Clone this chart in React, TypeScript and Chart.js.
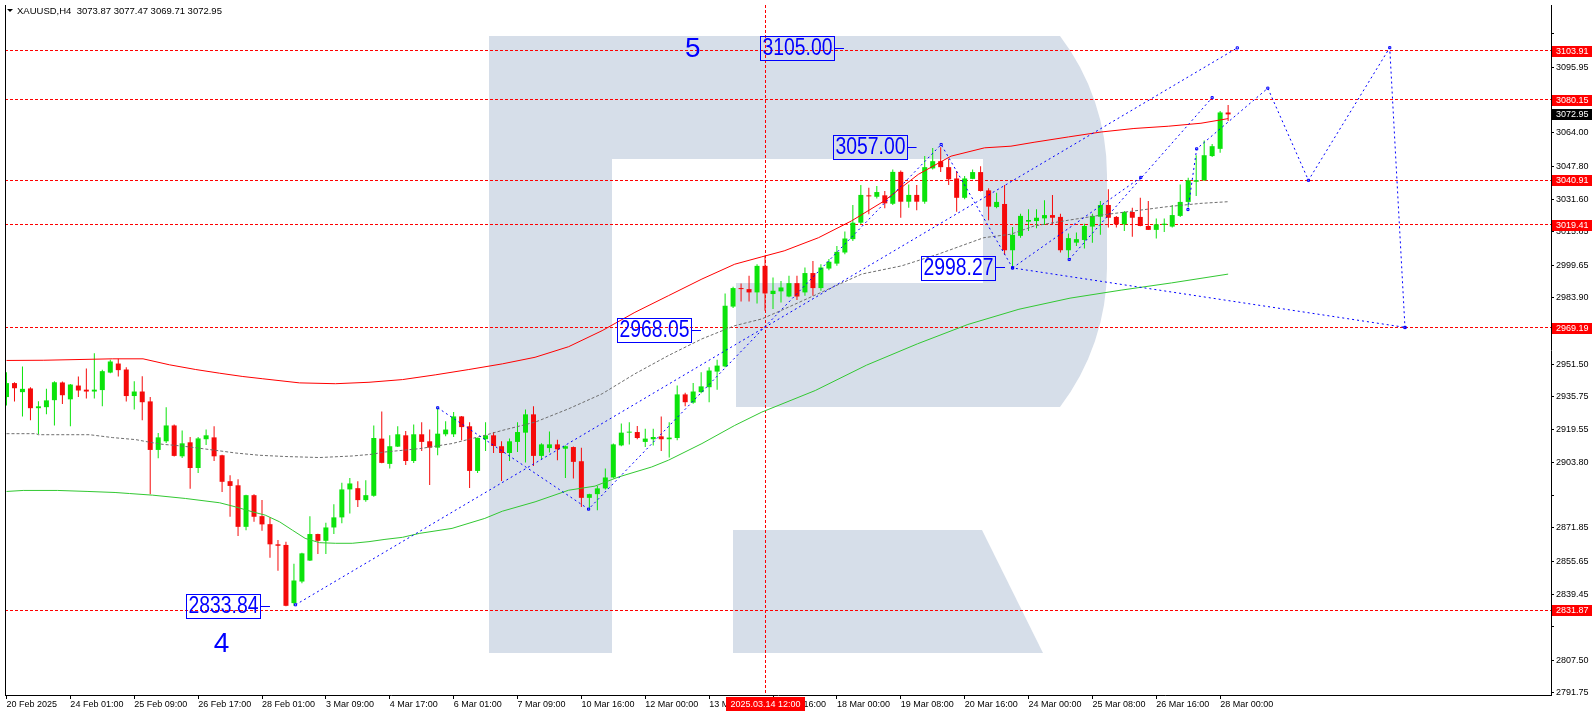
import React, { useEffect, useRef } from 'react';
import { Chart, registerables } from 'chart.js';

Chart.register(...registerables);

// ---------------- data (XAUUSD, H4) ----------------
const OPEN = [
  2935.5, 2942.3, 2937.9, 2939.7, 2930.1, 2930.6, 2934.0, 2942.6, 2934.4, 2941.1,
  2939.1, 2938.2, 2938.9, 2947.4, 2951.8, 2948.9, 2936.0, 2938.2, 2933.4, 2909.8,
  2914.0, 2921.7, 2906.7, 2913.5, 2901.0, 2915.0, 2915.9, 2907.2, 2894.6, 2892.6,
  2872.4, 2887.8, 2877.6, 2873.7, 2863.9, 2863.6, 2835.3, 2845.8, 2856.0, 2868.9,
  2865.6, 2872.1, 2877.0, 2890.6, 2891.2, 2885.4, 2887.5, 2915.3, 2903.0, 2911.4,
  2916.9, 2904.4, 2917.4, 2914.0, 2910.9, 2917.4, 2917.4, 2926.1, 2921.3, 2899.6,
  2915.0, 2916.9, 2911.6, 2908.3, 2913.7, 2918.2, 2927.1, 2906.9, 2910.7, 2912.5,
  2910.4, 2911.2, 2904.3, 2886.5, 2888.3, 2891.1, 2896.4, 2912.0, 2918.2, 2918.5,
  2913.7, 2915.0, 2916.4, 2915.0, 2915.6, 2936.8, 2932.8, 2937.9, 2940.3, 2947.9,
  2950.4, 2979.5, 2988.5, 2988.0, 2986.4, 2999.3, 2985.6, 2986.9, 2984.4, 2990.9,
  2986.4, 2995.8, 2988.5, 2998.0, 3000.4, 3005.8, 3012.3, 3020.3, 3033.6, 3032.9,
  3033.6, 3029.5, 3045.0, 3030.5, 3033.8, 3030.5, 3046.7, 3050.2, 3047.3, 3041.8,
  3032.4, 3041.6, 3044.9, 3036.0, 3027.9, 3029.4, 3006.9, 3013.9, 3020.8, 3021.1,
  3022.4, 3024.0, 3023.1, 3006.9, 3010.6, 3011.9, 3018.4, 3023.2, 3028.9, 3023.1,
  3019.5, 3025.5, 3023.1, 3018.7, 3016.8, 3019.2, 3018.4, 3023.6, 3030.4, 3040.2,
  3040.9, 3052.7, 3056.2, 3073.87,
];
const HIGH = [
  2947.6, 2942.7, 2950.4, 2940.3, 2933.5, 2939.5, 2943.2, 2943.1, 2941.8, 2945.5,
  2949.4, 2956.8, 2948.8, 2953.6, 2954.1, 2950.0, 2943.2, 2945.6, 2935.5, 2918.0,
  2930.6, 2922.2, 2919.3, 2916.1, 2916.1, 2919.7, 2921.3, 2907.5, 2897.5, 2895.6,
  2888.0, 2888.3, 2885.4, 2877.0, 2866.0, 2865.2, 2854.4, 2859.8, 2877.6, 2869.1,
  2874.4, 2883.4, 2893.8, 2896.2, 2894.6, 2895.1, 2921.7, 2928.5, 2916.9, 2921.3,
  2919.0, 2922.2, 2923.2, 2919.7, 2930.3, 2923.7, 2928.2, 2926.3, 2923.3, 2915.8,
  2923.3, 2918.5, 2914.0, 2915.3, 2923.3, 2929.4, 2931.0, 2913.0, 2918.8, 2914.8,
  2912.0, 2911.5, 2910.9, 2888.5, 2892.2, 2900.8, 2912.9, 2922.6, 2923.3, 2921.4,
  2920.1, 2920.1, 2926.1, 2923.3, 2941.1, 2937.6, 2942.3, 2947.6, 2950.0, 2953.6,
  2985.9, 2989.1, 2990.7, 2994.5, 3000.1, 3004.2, 2993.6, 2992.0, 2994.5, 2994.5,
  2998.5, 3001.7, 3000.1, 3002.6, 3009.0, 3016.0, 3028.9, 3038.6, 3037.3, 3038.1,
  3035.7, 3046.2, 3045.7, 3038.9, 3038.6, 3052.7, 3056.6, 3057.0, 3051.3, 3045.4,
  3043.0, 3046.2, 3047.8, 3037.0, 3034.9, 3038.6, 3018.2, 3024.7, 3026.8, 3026.8,
  3031.2, 3033.8, 3024.7, 3015.0, 3015.5, 3019.8, 3024.7, 3030.8, 3036.5, 3023.6,
  3026.0, 3027.6, 3032.4, 3030.8, 3022.3, 3022.3, 3028.9, 3038.9, 3042.1, 3053.1,
  3060.3, 3058.6, 3074.6, 3077.47,
];
const LOW = [
  2931.4, 2933.4, 2926.1, 2924.2, 2917.4, 2927.1, 2921.7, 2932.1, 2921.3, 2935.5,
  2934.8, 2934.8, 2931.0, 2947.1, 2945.5, 2933.4, 2929.4, 2924.2, 2888.3, 2905.7,
  2913.2, 2906.6, 2905.9, 2890.9, 2898.6, 2912.2, 2904.4, 2889.4, 2877.3, 2867.9,
  2870.8, 2874.9, 2870.5, 2857.4, 2851.1, 2833.84, 2834.0, 2845.0, 2855.8, 2859.2,
  2859.2, 2868.9, 2874.1, 2878.9, 2882.1, 2884.6, 2887.0, 2903.3, 2900.8, 2911.2,
  2902.5, 2903.5, 2909.3, 2892.7, 2907.2, 2916.4, 2916.1, 2914.5, 2891.3, 2898.6,
  2909.3, 2908.3, 2894.7, 2904.4, 2908.8, 2903.7, 2902.0, 2905.1, 2908.5, 2904.8,
  2896.2, 2895.9, 2882.1, 2880.9, 2880.5, 2890.6, 2895.9, 2911.6, 2912.4, 2915.0,
  2911.2, 2912.0, 2909.3, 2906.1, 2914.5, 2931.0, 2932.3, 2937.4, 2933.0, 2939.1,
  2950.0, 2978.8, 2982.0, 2982.0, 2981.0, 2977.5, 2978.3, 2981.5, 2984.0, 2982.7,
  2984.8, 2984.8, 2987.2, 2997.2, 2999.3, 3005.0, 3011.4, 3019.5, 3024.4, 3032.1,
  3027.3, 3028.9, 3022.7, 3027.6, 3026.3, 3029.5, 3046.2, 3044.9, 3038.6, 3025.6,
  3031.7, 3041.4, 3035.5, 3021.5, 3027.3, 3004.7, 2998.27, 3013.0, 3016.3, 3017.6,
  3019.2, 3019.5, 3005.8, 3003.3, 3009.0, 3007.7, 3010.6, 3014.4, 3017.9, 3017.9,
  3016.3, 3013.4, 3018.6, 3016.7, 3012.6, 3015.8, 3017.9, 3023.1, 3027.9, 3033.3,
  3040.7, 3052.2, 3054.3, 3069.71,
];
const CLOSE = [
  2942.3, 2939.8, 2939.5, 2930.1, 2931.0, 2933.9, 2942.7, 2936.4, 2941.6, 2938.7,
  2938.2, 2939.1, 2948.1, 2952.8, 2948.6, 2936.0, 2938.2, 2933.0, 2909.8, 2915.9,
  2921.7, 2906.9, 2913.0, 2901.0, 2915.4, 2916.9, 2906.7, 2894.3, 2892.3, 2872.4,
  2887.8, 2877.3, 2873.6, 2863.9, 2863.2, 2834.0, 2846.3, 2859.5, 2868.9, 2865.6,
  2872.1, 2877.0, 2890.6, 2893.5, 2885.4, 2887.8, 2915.6, 2903.5, 2911.6, 2917.4,
  2904.4, 2917.4, 2913.7, 2910.9, 2917.7, 2919.7, 2926.1, 2920.9, 2899.6, 2915.6,
  2916.9, 2911.7, 2908.3, 2914.0, 2918.5, 2927.1, 2906.9, 2912.5, 2912.5, 2910.1,
  2911.6, 2904.0, 2886.5, 2888.3, 2891.1, 2896.4, 2912.5, 2918.2, 2918.5, 2915.6,
  2915.3, 2916.1, 2915.0, 2915.8, 2936.8, 2933.0, 2938.2, 2940.7, 2948.4, 2950.8,
  2979.9, 2988.5, 2988.0, 2986.4, 2999.3, 2985.9, 2987.2, 2988.8, 2990.9, 2984.4,
  2995.8, 2988.5, 2998.5, 3001.3, 3006.1, 3012.6, 3020.3, 3033.8, 3033.1, 3035.2,
  3029.7, 3045.0, 3030.5, 3033.8, 3030.5, 3047.3, 3050.2, 3047.3, 3041.4, 3032.4,
  3041.8, 3044.9, 3035.7, 3028.1, 3030.4, 3006.9, 3014.4, 3023.6, 3021.6, 3022.7,
  3024.0, 3022.7, 3006.9, 3012.8, 3012.3, 3018.7, 3023.6, 3028.9, 3022.7, 3019.5,
  3025.5, 3022.7, 3018.7, 3016.8, 3019.5, 3019.8, 3024.0, 3030.4, 3040.9, 3040.9,
  3053.1, 3057.5, 3073.9, 3072.95,
];

// moving averages (bar index, price)
const RED_MA_BAR = [0, 4.6, 13.3, 17.1, 20.4, 23.7, 26.7, 29.6, 32.1, 36.7, 41.2, 45.4, 49.6, 53.7, 57.9, 62.1, 66.2, 70.4, 74.6, 78.7, 82.9, 87.1, 91.2, 94.6, 97.4, 101.7, 105.8, 109.9, 114.2, 118.3, 122.5, 125.8, 128.7, 133.0, 137.1, 141.2, 145.5, 149.6, 153];
const RED_MA = [2953.3, 2953.4, 2954.1, 2954.1, 2951.2, 2948.9, 2947.1, 2945.5, 2944.4, 2942.4, 2942.0, 2942.7, 2944.0, 2946.3, 2948.9, 2951.65, 2954.85, 2960.0, 2967.8, 2976.7, 2984.8, 2992.9, 3000.1, 3003.7, 3006.6, 3013.0, 3021.1, 3030.8, 3043.8, 3052.65, 3056.7, 3057.5, 3059.4, 3062.0, 3064.4, 3066.1, 3067.2, 3068.65, 3070.9];
const GREEN_MA_BAR = [0, 2.1, 6.4, 10.2, 13.6, 15.4, 18.3, 22.4, 26.7, 28.7, 30.8, 32.4, 34.2, 35.8, 37.4, 39.2, 41.2, 43.3, 45.4, 47.4, 49.6, 51.7, 55.8, 59.9, 62.1, 66.2, 70.4, 73.7, 76.7, 80.8, 82.9, 87.1, 91.2, 94.6, 101.3, 107.7, 114.1, 120.4, 126.8, 133.2, 139.6, 145.9, 153];
const GREEN_MA = [2889.6, 2890.1, 2890.1, 2889.6, 2889.1, 2888.6, 2887.8, 2886.2, 2884.1, 2882.1, 2879.7, 2878.1, 2874.85, 2870.8, 2866.8, 2864.7, 2864.4, 2864.4, 2865.2, 2866.3, 2867.3, 2869.2, 2871.65, 2876.5, 2880.0, 2884.55, 2890.2, 2892.2, 2896.7, 2901.5, 2904.8, 2912.9, 2921.7, 2928.2, 2938.7, 2951.0, 2961.4, 2970.8, 2978.2, 2983.6, 2987.5, 2991.0, 2995.3];
const GRAY_MA_BAR = [0, 3.7, 4.0, 10.4, 13.3, 16.2, 18.0, 19.6, 21.2, 23.0, 24.6, 26.2, 28.7, 31.7, 34.9, 39.2, 43.3, 45.8, 47.4, 51.7, 55.8, 59.9, 62.1, 66.2, 70.4, 74.6, 78.7, 82.9, 87.1, 91.2, 94.6, 97.4, 107.1, 112.1, 116.7, 122.4, 125.8, 128.7, 133.0, 137.1, 141.2, 145.4, 149.6, 153];
const GRAY_MA = [2917.7, 2917.7, 2917.2, 2917.2, 2915.8, 2914.8, 2913.5, 2912.5, 2912.0, 2911.2, 2910.4, 2909.6, 2908.3, 2907.2, 2906.6, 2906.1, 2906.85, 2907.7, 2908.8, 2910.4, 2912.9, 2916.9, 2919.3, 2923.3, 2929.8, 2937.1, 2946.8, 2955.7, 2963.8, 2970.2, 2973.5, 2978.3, 2995.3, 2999.3, 3005.0, 3013.0, 3014.7, 3018.7, 3021.5, 3024.0, 3026.0, 3028.1, 3029.7, 3030.5];

// forecast / trend lines (bar index, price)
const CHANNEL_BAR = [36.2, 154.15];
const CHANNEL_PRICE = [2834.5, 3105.3];
const WAVE_BAR = [54.0, 72.9, 117.06, 126.0, 175.15];
const WAVE_PRICE = [2930.3, 2881.0, 3058.3, 2998.3, 2969.4];
const SUB1_BAR = [126.0, 142.06];
const SUB1_PRICE = [2998.3, 3042.3];
const SUB2_BAR = [133.1, 151.0];
const SUB2_PRICE = [3002.4, 3081.1];
const PROJ_BAR = [147.97, 149.06, 157.97, 163.06, 173.24, 175.15];
const PROJ_PRICE = [3026.7, 3056.2, 3085.7, 3040.9, 3105.4, 2969.3];

// horizontal levels and markers
const LEVELS = [3103.91, 3080.15, 3040.91, 3019.41, 2969.19, 2831.87];
const CURRENT_PRICE = 3072.95;
const CROSS_BAR = 95;
const CROSS_LABEL = '2025.03.14 12:00';

const NOTE_TEXT = ['3105.00', '3057.00', '2998.27', '2968.05', '2833.84'];
const NOTE_BAR = [104.89, 113.98, 125.06, 86.98, 33.0];
const NOTE_PRICE = [3105.0, 3057.0, 2998.27, 2968.05, 2833.84];
const WAVE_LABEL = ['5', '4'];
const WAVE_LABEL_BAR = [85.94, 26.94];
const WAVE_LABEL_PRICE = [3105.3, 2815.7];

// axes
const X_TICK_BARS = [0, 8, 16, 24, 32, 40, 48, 56, 64, 72, 80, 88, 96, 104, 112, 120, 128, 136, 144, 152];
const X_TICK_LABELS = ['20 Feb 2025', '24 Feb 01:00', '25 Feb 09:00', '26 Feb 17:00', '28 Feb 01:00', '3 Mar 09:00', '4 Mar 17:00', '6 Mar 01:00', '7 Mar 09:00', '10 Mar 16:00', '12 Mar 00:00', '13 Mar 08:00', '14 Mar 16:00', '18 Mar 00:00', '19 Mar 08:00', '20 Mar 16:00', '24 Mar 00:00', '25 Mar 08:00', '26 Mar 16:00', '28 Mar 00:00'];
const Y_TICKS = [3112.15, 3095.95, 3079.75, 3064.0, 3047.8, 3031.6, 3015.85, 2999.65, 2983.9, 2967.7, 2951.5, 2935.75, 2919.55, 2903.8, 2887.6, 2871.85, 2855.65, 2839.45, 2823.7, 2807.5, 2791.75];
const Y_TICKS_UNLABELED = [3112.15, 3079.75, 2967.7, 2887.6, 2823.7];
const Y_MIN = 2790.63;
const Y_MAX = 3126.15;
const TITLE = 'XAUUSD,H4  3073.87 3077.47 3069.71 3072.95';

// ---------------- styles ----------------
const BULL = '#0be30b';
const BEAR = '#f50a0a';
const WATERMARK = '#d6dee9';
const BLUE = '#0000ff';
const TICK_FONT = '9px "Liberation Sans", Arial, sans-serif';

export default function App() {
  const canvasRef = useRef<HTMLCanvasElement | null>(null);

  useEffect(() => {
    document.body.style.margin = '0';
    const canvas = canvasRef.current;
    if (!canvas) return;

    const idx = OPEN.map((_, i) => i);
    const colors = idx.map((i) => (CLOSE[i] >= OPEN[i] ? BULL : BEAR));
    const pts = (xs: number[], ys: number[]) => xs.map((x, i) => ({ x, y: ys[i] }));

    const lineDs = (data: any[], color: string, dash: number[], order: number, marker = false) => ({
      type: 'line',
      data,
      borderColor: color,
      borderWidth: 1,
      borderDash: dash,
      pointRadius: marker ? 1.5 : 0,
      pointStyle: 'rect',
      pointBorderColor: color,
      pointBackgroundColor: 'rgba(0,0,0,0)',
      pointBorderWidth: 1,
      tension: 0,
      fill: false,
      order,
    });

    const decor = {
      id: 'decor',
      beforeDraw(chart: any) {
        const { ctx, chartArea: a } = chart;
        ctx.save();
        ctx.fillStyle = '#ffffff';
        ctx.fillRect(0, 0, chart.width, chart.height);
        ctx.beginPath();
        ctx.rect(a.left, a.top, a.right - a.left, a.bottom - a.top);
        ctx.clip();
        ctx.fillStyle = WATERMARK;
        ctx.fillRect(489, 36, 123, 617);
        ctx.beginPath();
        ctx.moveTo(612, 36);
        ctx.lineTo(1060, 36);
        ctx.arc(878, 175, 229, Math.atan2(-139, 182), 0);
        ctx.lineTo(1107, 268);
        ctx.arc(878, 268, 229, 0, Math.atan2(139, 182));
        ctx.lineTo(736, 407);
        ctx.lineTo(736, 283);
        ctx.lineTo(983, 283);
        ctx.lineTo(983, 159);
        ctx.lineTo(612, 159);
        ctx.closePath();
        ctx.fill();
        ctx.beginPath();
        ctx.moveTo(733, 530);
        ctx.lineTo(982, 530);
        ctx.lineTo(1043, 653);
        ctx.lineTo(733, 653);
        ctx.closePath();
        ctx.fill();
        ctx.restore();
      },
      beforeDatasetsDraw(chart: any) {
        const { ctx, chartArea: a, scales } = chart;
        const xs = scales.x;
        const ys = scales.y;
        ctx.save();
        ctx.beginPath();
        ctx.rect(a.left, a.top, a.right - a.left, a.bottom - a.top);
        ctx.clip();
        ctx.strokeStyle = '#ff0000';
        ctx.lineWidth = 1;
        ctx.setLineDash([3, 2]);
        LEVELS.forEach((p) => {
          const y = Math.floor(ys.getPixelForValue(p)) + 0.5;
          ctx.beginPath();
          ctx.moveTo(a.left, y);
          ctx.lineTo(a.right, y);
          ctx.stroke();
        });
        const cx = Math.floor(xs.getPixelForValue(CROSS_BAR)) + 0.5;
        ctx.beginPath();
        ctx.moveTo(cx, a.top);
        ctx.lineTo(cx, a.bottom);
        ctx.stroke();
        ctx.restore();
      },
      afterDatasetsDraw(chart: any) {
        const { ctx, scales } = chart;
        const xs = scales.x;
        const ys = scales.y;
        ctx.save();
        ctx.strokeStyle = BLUE;
        ctx.fillStyle = BLUE;
        ctx.lineWidth = 1;
        ctx.setLineDash([]);
        ctx.textAlign = 'center';
        ctx.textBaseline = 'middle';
        ctx.font = '23px "Liberation Sans", Arial, sans-serif';
        NOTE_TEXT.forEach((t, i) => {
          const ax = xs.getPixelForValue(NOTE_BAR[i]);
          const ay = ys.getPixelForValue(NOTE_PRICE[i]);
          const right = Math.round(ax - 10);
          const left = right - 74;
          const top = Math.round(ay - 12);
          ctx.strokeRect(left + 0.5, top + 0.5, 74, 24);
          ctx.beginPath();
          ctx.moveTo(right, Math.floor(ay) + 0.5);
          ctx.lineTo(ax, Math.floor(ay) + 0.5);
          ctx.stroke();
          ctx.fillText(t, left + 37.5, top + 13, 70);
        });
        ctx.font = '28px "Liberation Sans", Arial, sans-serif';
        WAVE_LABEL.forEach((t, i) => {
          ctx.fillText(t, xs.getPixelForValue(WAVE_LABEL_BAR[i]), ys.getPixelForValue(WAVE_LABEL_PRICE[i]) + 1);
        });
        ctx.restore();
      },
      afterDraw(chart: any) {
        const { ctx, chartArea: a, scales } = chart;
        const xs = scales.x;
        const ys = scales.y;
        ctx.save();
        ctx.fillStyle = '#000';
        ctx.fillRect(a.left, a.top, 1, a.bottom - a.top);
        ctx.font = TICK_FONT;
        ctx.textBaseline = 'middle';
        ctx.textAlign = 'left';
        const priceBox = (p: number, bg: string) => {
          const y = Math.round(ys.getPixelForValue(p));
          ctx.fillStyle = bg;
          ctx.fillRect(a.right + 1, y - 5, 40, 11);
          ctx.fillStyle = '#ffffff';
          ctx.fillText(p.toFixed(2), a.right + 5, y + 0.5);
        };
        LEVELS.forEach((p) => priceBox(p, '#ff0000'));
        priceBox(CURRENT_PRICE, '#000000');
        const cx = Math.floor(xs.getPixelForValue(CROSS_BAR)) + 0.5;
        ctx.fillStyle = '#ff0000';
        ctx.fillRect(Math.round(cx - 39.5), a.bottom + 2, 79, 14);
        ctx.fillStyle = '#ffffff';
        ctx.textAlign = 'center';
        ctx.fillText(CROSS_LABEL, cx, a.bottom + 9.5);
        ctx.fillStyle = '#000';
        ctx.beginPath();
        ctx.moveTo(7, 9);
        ctx.lineTo(13, 9);
        ctx.lineTo(10, 12);
        ctx.closePath();
        ctx.fill();
        ctx.textAlign = 'left';
        ctx.font = '9.5px "Liberation Sans", Arial, sans-serif';
        ctx.fillText(TITLE, 17, 11);
        ctx.restore();
      },
    };

    const chart = new Chart(canvas, {
      type: 'bar',
      data: {
        datasets: [
          {
            type: 'bar',
            data: idx.map((i) => ({ x: i, y: [LOW[i], HIGH[i]] })),
            backgroundColor: colors,
            borderWidth: 0,
            barThickness: 1,
            maxBarThickness: 1,
            grouped: false,
            minBarLength: 1,
            inflateAmount: 0,
            order: 20,
          },
          {
            type: 'bar',
            data: idx.map((i) => ({ x: i, y: [OPEN[i], CLOSE[i]] })),
            backgroundColor: colors,
            borderWidth: 0,
            barThickness: 5,
            maxBarThickness: 5,
            grouped: false,
            minBarLength: 1,
            inflateAmount: 0,
            order: 19,
          },
          lineDs(pts(GRAY_MA_BAR, GRAY_MA), '#6e6e6e', [3, 2], 12),
          lineDs(pts(GREEN_MA_BAR, GREEN_MA), '#32c832', [], 11),
          lineDs(pts(RED_MA_BAR, RED_MA), '#ff0000', [], 10),
          lineDs(pts(CHANNEL_BAR, CHANNEL_PRICE), BLUE, [2, 3], 4, true),
          lineDs(pts(WAVE_BAR, WAVE_PRICE), BLUE, [2, 3], 3, true),
          lineDs(pts(SUB1_BAR, SUB1_PRICE), BLUE, [2, 3], 2, true),
          lineDs(pts(SUB2_BAR, SUB2_PRICE), BLUE, [2, 3], 1, true),
          lineDs(pts(PROJ_BAR, PROJ_PRICE), BLUE, [2, 3], 0, true),
        ] as any,
      },
      options: {
        responsive: false,
        animation: false,
        devicePixelRatio: 1,
        events: [],
        layout: { padding: { left: 2, top: 3, right: 0, bottom: 0 } },
        plugins: { legend: { display: false }, tooltip: { enabled: false } },
        scales: {
          x: {
            type: 'linear',
            min: -0.1875,
            max: -0.1875 + 1549 / 8,
            offset: false,
            grid: { display: true, drawOnChartArea: false, drawTicks: true, tickLength: 4, color: '#000', offset: false },
            border: { display: true, color: '#000', width: 1 },
            ticks: {
              autoSkip: false,
              maxRotation: 0,
              minRotation: 0,
              align: 'start',
              padding: 0,
              color: '#000',
              font: { family: '"Liberation Sans", Arial, sans-serif', size: 9 },
              callback: (_v: any, i: number) => X_TICK_LABELS[i] ?? '',
            },
            afterBuildTicks: (s: any) => {
              s.ticks = X_TICK_BARS.map((v) => ({ value: v }));
            },
            afterFit: (s: any) => {
              s.height = 21;
              s.paddingLeft = 0;
              s.paddingRight = 0;
            },
          },
          y: {
            type: 'linear',
            position: 'right',
            min: Y_MIN,
            max: Y_MAX,
            grid: { display: true, drawOnChartArea: false, drawTicks: true, tickLength: 3, color: '#000' },
            border: { display: true, color: '#000', width: 1 },
            ticks: {
              autoSkip: false,
              padding: 2,
              color: '#000',
              font: { family: '"Liberation Sans", Arial, sans-serif', size: 9 },
              callback: (v: any) => (Y_TICKS_UNLABELED.includes(Number(v)) ? '' : Number(v).toFixed(2)),
            },
            afterBuildTicks: (s: any) => {
              s.ticks = Y_TICKS.map((v) => ({ value: v }));
            },
            afterFit: (s: any) => {
              s.width = 45;
              s.paddingTop = 0;
              s.paddingBottom = 0;
            },
          },
        },
      } as any,
      plugins: [decor],
    });

    return () => chart.destroy();
  }, []);

  return (
    <div style={{ width: 1596, height: 716, overflow: 'hidden' }}>
      <canvas ref={canvasRef} width={1596} height={716} style={{ display: 'block', width: 1596, height: 716 }} />
    </div>
  );
}
